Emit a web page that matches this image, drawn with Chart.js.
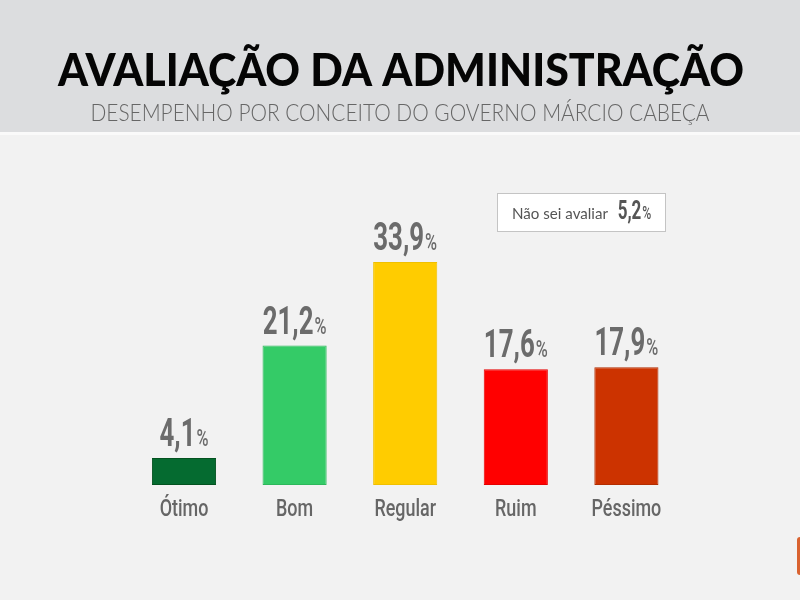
<!DOCTYPE html>
<html lang="pt-BR">
<head>
<meta charset="utf-8">
<title>Avaliação da Administração</title>
<script src="https://cdn.jsdelivr.net/npm/chart.js@4"></script>
<style>
  html, body { margin: 0; padding: 0; background: #f2f2f2; }
  #wrap { width: 800px; height: 600px; }
</style>
</head>
<body>
<div id="wrap"><canvas id="avaliacaoChart" width="800" height="600"></canvas></div>
<script>
// Dados
const titulo = 'AVALIAÇÃO DA ADMINISTRAÇÃO';
const subtitulo = 'DESEMPENHO POR CONCEITO DO GOVERNO MÁRCIO CABEÇA';
const categorias = ['Ótimo', 'Bom', 'Regular', 'Ruim', 'Péssimo'];
const valores = [4.1, 21.2, 33.9, 17.6, 17.9];
const cores = ['#056b30', '#34cb67', '#ffcc00', '#ff0000', '#cc3300'];
const bordas = ['#03521f', '#2db85b', '#f0c000', '#e60000', '#b32d00'];
const naoSeiLabel = 'Não sei avaliar';
const naoSeiValor = 5.2;

const fmt = v => v.toLocaleString('pt-BR', { minimumFractionDigits: 1, maximumFractionDigits: 1 });
const SX = 0.68; // compressao horizontal p/ imitar fonte condensada

// desenha texto ajustado a uma largura alvo (comprime/expande so na horizontal)
function fitText(ctx, txt, cx, y, font, targetW) {
  ctx.save();
  ctx.font = font;
  const w = ctx.measureText(txt).width;
  ctx.translate(cx, y);
  ctx.scale(targetW / w, 1);
  ctx.textAlign = 'center';
  ctx.fillText(txt, 0, 0);
  ctx.restore();
}

function condText(ctx, txt, cx, y, font, sx) {
  ctx.save();
  ctx.font = font;
  ctx.translate(cx, y);
  ctx.scale(sx, 1);
  ctx.textAlign = 'center';
  ctx.fillText(txt, 0, 0);
  ctx.restore();
}

// numero grande + % menor
function drawPercent(ctx, v, cx, baseline, bigSize, smallSize, color) {
  const num = fmt(v);
  const fBig = `bold ${bigSize}px Roboto, sans-serif`;
  const fSmall = `500 ${smallSize}px Roboto, sans-serif`;
  ctx.save();
  ctx.fillStyle = color;
  ctx.textBaseline = 'alphabetic';
  ctx.textAlign = 'left';
  ctx.font = fBig;
  const wNum = ctx.measureText(num).width * SX;
  ctx.font = fSmall;
  const wPct = ctx.measureText('%').width * SX;
  const x0 = cx - (wNum + wPct + 1) / 2;
  ctx.translate(x0, baseline);
  ctx.scale(SX, 1);
  ctx.font = fBig;
  ctx.fillText(num, 0, 0);
  ctx.font = fSmall;
  ctx.fillText('%', (wNum + 1) / SX, 0);
  ctx.restore();
}

const fundoPlugin = {
  id: 'fundo',
  beforeDraw(chart) {
    const { ctx, width, height } = chart;
    ctx.save();
    ctx.fillStyle = '#f2f2f2';
    ctx.fillRect(0, 0, width, height);
    ctx.fillStyle = '#dcdddf';
    ctx.fillRect(0, 0, width, 132);
    ctx.fillStyle = '#fafafa';
    ctx.fillRect(0, 132, width, 3);

    // titulo
    ctx.fillStyle = '#050505';
    ctx.textBaseline = 'alphabetic';
    fitText(ctx, titulo, 401, 86, '900 46px Lato, "DejaVu Sans", sans-serif', 686);
    // subtitulo
    ctx.fillStyle = '#666666';
    fitText(ctx, subtitulo, 400, 121, '300 24px Lato, "Open Sans", sans-serif', 619);

    // caixa "Não sei avaliar"
    ctx.fillStyle = '#ffffff';
    ctx.fillRect(497.5, 193.5, 168, 38);
    ctx.strokeStyle = '#c4c4c4';
    ctx.lineWidth = 1;
    ctx.strokeRect(497.5, 193.5, 168, 38);
    ctx.fillStyle = '#555555';
    fitText(ctx, naoSeiLabel, 560, 219, '400 16px Lato, "Open Sans", sans-serif', 96);
    drawPercent(ctx, naoSeiValor, 634.5, 219, 25, 18, '#555555');

    // detalhe laranja no canto
    ctx.fillStyle = '#d9622f';
    ctx.beginPath();
    ctx.roundRect(797, 537, 12, 38, 3);
    ctx.fill();
    ctx.restore();
  }
};

const rotulosPlugin = {
  id: 'rotulos',
  afterDatasetsDraw(chart) {
    const { ctx } = chart;
    const meta = chart.getDatasetMeta(0);
    meta.data.forEach((bar, i) => {
      drawPercent(ctx, valores[i], bar.x, bar.y - 12, 38, 24, '#6b6b6b');
    });
    // rotulos do eixo x (condensados) nas posicoes dos ticks
    const sx = chart.scales.x;
    ctx.save();
    ctx.fillStyle = '#666666';
    ctx.textBaseline = 'alphabetic';
    sx.ticks.forEach((t, i) => {
      condText(ctx, sx.getLabelForValue(t.value), sx.getPixelForTick(i), 516, '500 23px Roboto, sans-serif', 0.78);
    });
    ctx.restore();
  }
};

new Chart(document.getElementById('avaliacaoChart'), {
  type: 'bar',
  data: {
    labels: categorias,
    datasets: [{
      data: valores,
      backgroundColor: cores,
      borderColor: bordas,
      borderWidth: 1,
      borderSkipped: false,
      barPercentage: 0.58,
      categoryPercentage: 1
    }]
  },
  options: {
    responsive: false,
    devicePixelRatio: 1,
    animation: false,
    layout: { padding: { left: 128.7, right: 118.3, top: 221.8, bottom: 0 } },
    plugins: {
      legend: { display: false },
      tooltip: { enabled: false }
    },
    scales: {
      x: {
        afterFit: (s) => { s.height = 115; },
        grid: { display: false, drawTicks: false },
        border: { display: false },
        ticks: { display: false }
      },
      y: { display: false, min: 0, max: 40 }
    }
  },
  plugins: [fundoPlugin, rotulosPlugin]
});
</script>
</body>
</html>
